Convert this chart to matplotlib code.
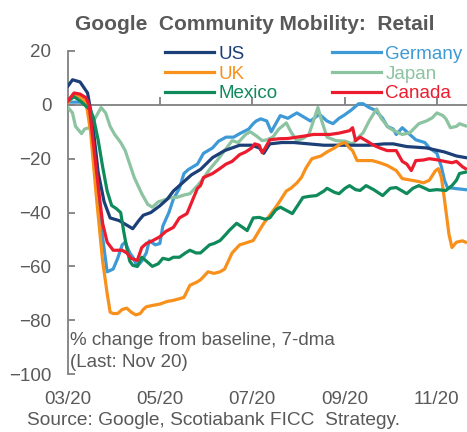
import pandas as pd
import matplotlib
matplotlib.use('Agg')
import matplotlib.pyplot as plt
import matplotlib.dates as mdates

plt.rcParams['font.family'] = ['Liberation Sans', 'DejaVu Sans']

BASE = pd.Timestamp('2020-03-01')
GREY = '#595959'
AXIS_GREY = '#808080'

# days since 2020-03-01 and % change from baseline (7-dma)
us_days = [0, 3, 8, 13, 16, 20, 24, 28, 34, 40, 43, 47, 50, 55, 61, 66, 70, 76, 82, 88, 96, 104,
           114, 122, 127, 130, 134, 142, 150, 160, 170, 180, 190, 200, 210, 216, 225, 238, 250, 258, 264]
us_vals = [7, 9.3, 8.5, 4.4, -5, -25, -36, -42, -43, -45, -46, -43, -41, -40, -37.5, -35, -32, -29, -26,
           -24, -19.6, -17, -15, -15, -16, -18, -14.5, -14, -14, -14.5, -15, -15, -15, -15, -14.5, -14.5,
           -15.5, -16, -17.5, -19, -19.6]

de_days = [0, 5, 10, 14, 18, 22, 26, 30, 33, 36, 38, 41, 43, 46, 49, 52, 54, 58, 61, 63, 67, 70, 74,
           77, 80, 83, 86, 90, 96, 100, 105, 110, 114, 120, 123, 125, 128, 132, 135, 138, 141, 146, 152,
           158, 161, 167, 172, 176, 180, 183, 188, 193, 196, 200, 204, 209, 212, 216, 218, 222, 227, 231,
           237, 240, 245, 248, 250, 252, 256, 264]
de_vals = [1, 1, 1, -2, -20, -45, -62, -61, -57, -52, -51, -55, -56.5, -60, -58, -55, -50.5, -52, -51.5,
           -45, -40, -35, -31, -25.5, -24, -23, -22, -18, -16, -13.5, -12, -12, -10.7, -9, -7, -6, -5.2,
           -6, -10, -7, -4, -5, -3, -5, -6, -3.5, -6, -7, -5, -4, -2, 0.4, 0.4, -1, -2, -5, -8, -9, -11,
           -8.5, -11, -13, -14, -16, -18, -23, -28, -30.7, -31, -31.5]

uk_days = [0, 4, 8, 12, 15, 19, 23, 26, 28, 30, 33, 36, 39, 42, 45, 48, 50, 52, 56, 61, 66, 70, 74, 77,
           81, 85, 88, 93, 97, 101, 104, 109, 114, 117, 123, 127, 130, 134, 138, 141, 145, 148, 152, 155,
           158, 162, 168, 172, 177, 181, 184, 187, 189, 192, 196, 202, 207, 212, 218, 222, 228, 233, 236,
           240, 244, 246, 248, 250, 253, 255, 258, 262, 264]
uk_vals = [1, 3.5, 3, 1, -10, -35, -58, -70, -77, -77.5, -77.5, -76, -75.5, -77, -78, -77.5, -76, -75,
           -74.5, -74, -73, -72.6, -72, -71.5, -67, -66, -65, -62, -62.6, -62, -61, -55, -52, -51.5, -50.4,
           -46.7, -44, -41, -38, -35.5, -32, -31, -29, -27, -23.5, -20, -19, -17.5, -16, -14.5, -14, -16,
           -17, -20.7, -20.7, -20.7, -21.5, -22.5, -24.4, -27.4, -28, -28.5, -29, -28, -24.5, -23.7, -27,
           -35, -48, -53, -51, -50.5, -51]

jp_days = [0, 3, 5, 9, 11, 14, 18, 22, 25, 28, 31, 35, 38, 41, 44, 49, 53, 56, 60, 63, 68, 72, 77, 81,
           86, 89, 94, 99, 104, 109, 113, 118, 121, 125, 129, 132, 136, 140, 145, 148, 152, 156, 160, 163,
           166, 168, 172, 178, 184, 189, 193, 196, 200, 205, 208, 213, 218, 222, 227, 233, 238, 242, 245,
           249, 251, 254, 258, 260, 264]
jp_vals = [-1, -3, -8, -10.7, -9, -8.5, -5, -1, -3, -8, -11, -14, -17, -22, -27, -33, -37, -38, -36,
           -35.5, -34.5, -34.4, -33.5, -33, -30, -28, -24, -20.7, -17, -13.3, -14, -11, -10, -11.5, -13.3,
           -13, -12, -9, -6.7, -10, -13.3, -12.5, -11, -6, -1, -5, -12, -13.3, -13.5, -14.5, -12, -10.4,
           -6, -1.5, -5, -8.5, -10, -11, -10.4, -7, -6, -4.8, -3, -4, -5.2, -8.5, -8, -7, -7.8]

mx_days = [0, 4, 8, 12, 15, 17, 20, 23, 26, 29, 32, 35, 37, 39, 41, 43, 46, 49, 52, 56, 60, 63, 67, 70,
           74, 78, 81, 85, 88, 92, 94, 97, 101, 105, 107, 112, 116, 119, 123, 127, 131, 134, 138, 141, 146,
           149, 153, 156, 160, 165, 170, 172, 177, 180, 184, 187, 191, 194, 198, 203, 209, 214, 218, 222,
           225, 229, 233, 237, 240, 245, 251, 255, 258, 260, 264]
mx_vals = [1.5, 3, 1.5, -0.5, -2, -5, -13, -23, -32, -37.4, -38.5, -40, -47, -53, -58, -59.6, -60,
           -56.6, -58, -60, -59, -57, -57.5, -56.6, -56.6, -55, -54, -55, -55, -53, -52, -51.5, -50.4,
           -48, -46.7, -44, -45.5, -46.7, -42, -41.8, -42.5, -42, -39, -38, -39.5, -40.4, -37, -34.4, -34,
           -33.7, -32, -31, -32.5, -33, -31, -30, -31.5, -31.8, -30, -31.5, -33.7, -31, -30.7, -32, -33,
           -31, -30, -31, -31.8, -31.5, -31.8, -30, -28, -25.5, -25]

ca_days = [0, 4, 8, 12, 14, 17, 20, 23, 26, 30, 33, 36, 39, 42, 46, 49, 52, 56, 61, 65, 70, 74, 79, 83,
           86, 88, 90, 96, 100, 105, 109, 114, 118, 122, 124, 127, 129, 131, 134, 140, 146, 152, 158, 163,
           168, 174, 180, 187, 189, 191, 194, 198, 200, 203, 207, 212, 218, 222, 225, 228, 231, 236, 240,
           246, 250, 255, 258, 262, 264]
ca_vals = [1.5, 4.4, 4, 2.6, 0, -15, -30, -44, -51, -54, -54, -54, -55, -57, -57.8, -53, -51.5, -50.5,
           -49, -47, -45.5, -42, -40.4, -35, -31, -30, -27, -25.5, -24, -22, -21, -18.5, -17.5, -16,
           -14.5, -15, -17.8, -16, -13, -12.6, -12.5, -12, -11.5, -11, -11, -11, -10.5, -9.6, -8.5, -13.3,
           -12, -13.3, -14, -15, -16, -17, -17, -21, -22, -24.4, -20.7, -20.5, -20, -20.5, -21, -21.5,
           -21, -23, -23.7]

# (label, days, values, colour); drawn in this order
SERIES = [
    ('Germany', de_days, de_vals, '#3E9AD6'),
    ('Japan', jp_days, jp_vals, '#8CC3A0'),
    ('US', us_days, us_vals, '#1C3F78'),
    ('UK', uk_days, uk_vals, '#F8901C'),
    ('Mexico', mx_days, mx_vals, '#0F8A5B'),
    ('Canada', ca_days, ca_vals, '#EC1C2E'),
]
LEGEND_ORDER = ['US', 'UK', 'Mexico', 'Germany', 'Japan', 'Canada']
X_TICKS = ['2020-03-01', '2020-05-01', '2020-07-01', '2020-09-01', '2020-11-01']


def to_dates(days):
    return BASE + pd.to_timedelta(days, unit='D')


fig = plt.figure(figsize=(4.67, 4.32), dpi=100)
ax = fig.add_axes([0.1456, 0.134, 0.8544, 0.748])

handles = {}
for label, days, vals, color in SERIES:
    line, = ax.plot(to_dates(days), vals, color=color, lw=2.3, label=label,
                    solid_joinstyle='round', zorder=3)
    handles[label] = line

ax.set_ylim(-100, 20)
ax.set_xlim(BASE, pd.Timestamp('2020-11-21'))
ax.set_yticks(range(-100, 21, 20))

# x axis line sits at zero, tick labels stay at the bottom
for side in ['top', 'right']:
    ax.spines[side].set_visible(False)
ax.spines['bottom'].set_position(('data', 0))
for side in ['left', 'bottom']:
    ax.spines[side].set_color(AXIS_GREY)
    ax.spines[side].set_linewidth(1.3)
ax.spines['bottom'].set_zorder(2)

ticks = pd.to_datetime(X_TICKS)
ax.set_xticks(ticks)
ax.tick_params(axis='x', direction='in', length=6, width=1.3, color=AXIS_GREY, labelbottom=False)
ax.tick_params(axis='y', direction='in', length=5, width=1.3, color=AXIS_GREY,
               labelsize=13.5, labelcolor=GREY, pad=12)

sec = ax.secondary_xaxis('bottom')
sec.set_xticks(ticks)
sec.xaxis.set_major_formatter(mdates.DateFormatter('%m/%y'))
sec.tick_params(length=0, labelsize=13.5, labelcolor=GREY, pad=12)
sec.spines['bottom'].set_visible(False)

ax.text(0.005, 0.13, '% change from baseline, 7-dma\n(Last: Nov 20)', transform=ax.transAxes,
        fontsize=13.5, color=GREY, va='top', ha='left', linespacing=1.4)

leg = ax.legend([handles[k] for k in LEGEND_ORDER], LEGEND_ORDER, ncol=2, frameon=False,
                loc='upper left', bbox_to_anchor=(0.243, 1.016), fontsize=13.5,
                handlelength=2.6, handletextpad=0.25, columnspacing=2.9,
                labelspacing=0.14, borderpad=0, borderaxespad=0)
for txt, key in zip(leg.get_texts(), LEGEND_ORDER):
    txt.set_color(handles[key].get_color())

fig.text(0.546, 0.943, 'Google  Community Mobility:  Retail', ha='center', va='center',
         fontsize=15, fontweight='bold', color=GREY)
fig.text(0.058, 0.026, 'Source: Google, Scotiabank FICC  Strategy.', ha='left', va='center',
         fontsize=13.8, color=GREY)

fig.savefig('out.png', dpi=100)
